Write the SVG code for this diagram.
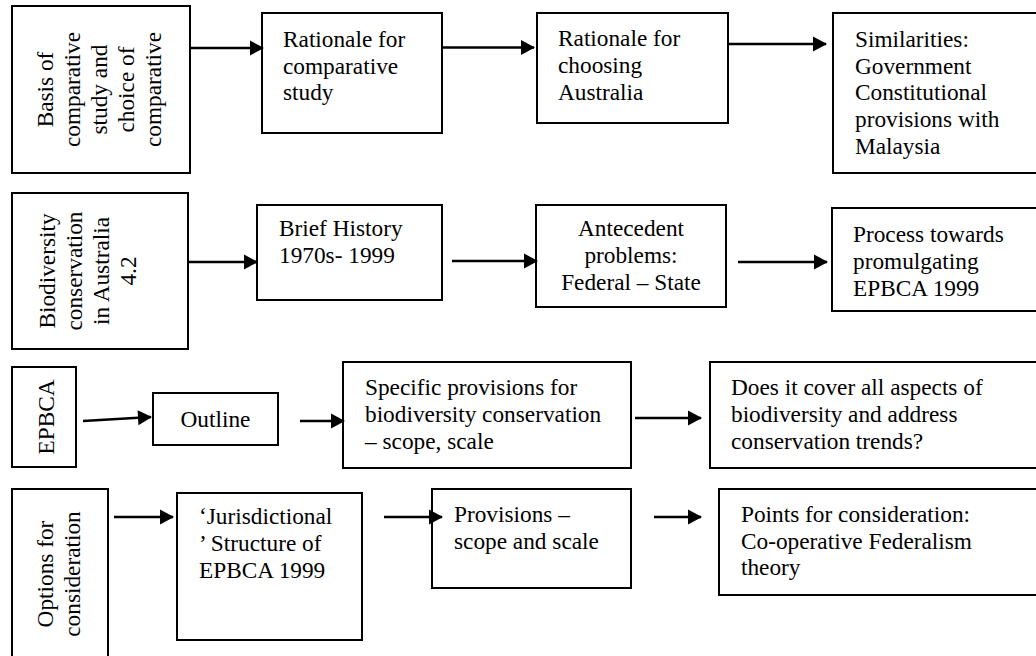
<svg xmlns="http://www.w3.org/2000/svg" width="1036" height="656" viewBox="0 0 1036 656">
<style>
.box{fill:#fff;stroke:#000;stroke-width:2}
.t{font-family:"Liberation Serif","Times New Roman",serif;font-size:23.3px;fill:#000}
.c{text-anchor:middle}
.conn line{stroke:#000;stroke-width:2.4;marker-end:url(#ah)}
</style>
<defs>
<marker id="ah" markerUnits="userSpaceOnUse" markerWidth="15" markerHeight="16" refX="13" refY="7.5" orient="auto" overflow="visible">
<path d="M0,0 L14,7.5 L0,15 z" fill="#000"/>
</marker>
</defs>
<rect width="1036" height="656" fill="#fff"/>

<g id="nodeA"><rect class="box" x="12" y="6" width="178" height="167"/>
<text class="t c" transform="translate(53 89.5) rotate(-90)"><tspan x="0" y="0">Basis of</tspan><tspan x="0" y="27">comparative</tspan><tspan x="0" y="54">study and</tspan><tspan x="0" y="81">choice of</tspan><tspan x="0" y="108">comparative</tspan></text></g>

<g id="nodeB"><rect class="box" x="262" y="13" width="180" height="120"/>
<text class="t"><tspan x="283" y="47">Rationale for</tspan><tspan x="283" y="73.5">comparative</tspan><tspan x="283" y="100">study</tspan></text></g>

<g id="nodeC"><rect class="box" x="537" y="13" width="191" height="110"/>
<text class="t"><tspan x="558" y="46">Rationale for</tspan><tspan x="558" y="73">choosing</tspan><tspan x="558" y="100">Australia</tspan></text></g>

<g id="nodeD"><rect class="box" x="833" y="13" width="210" height="160"/>
<text class="t"><tspan x="855" y="47">Similarities:</tspan><tspan x="855" y="73.5">Government</tspan><tspan x="855" y="100">Constitutional</tspan><tspan x="855" y="127">provisions with</tspan><tspan x="855" y="154">Malaysia</tspan></text></g>

<g id="nodeE"><rect class="box" x="12" y="193" width="176" height="156"/>
<text class="t c" transform="translate(55 271) rotate(-90)"><tspan x="0" y="0">Biodiversity</tspan><tspan x="0" y="27">conservation</tspan><tspan x="0" y="54">in Australia</tspan><tspan x="0" y="81">4.2</tspan></text></g>

<g id="nodeF"><rect class="box" x="257" y="205" width="185" height="95"/>
<text class="t"><tspan x="279" y="236">Brief History</tspan><tspan x="279" y="263">1970s- 1999</tspan></text></g>

<g id="nodeG"><rect class="box" x="536" y="205" width="190" height="102"/>
<text class="t c"><tspan x="631" y="236">Antecedent</tspan><tspan x="631" y="263">problems:</tspan><tspan x="631" y="290">Federal – State</tspan></text></g>

<g id="nodeH"><rect class="box" x="832" y="208" width="210" height="103"/>
<text class="t"><tspan x="853" y="242">Process towards</tspan><tspan x="853" y="269">promulgating</tspan><tspan x="853" y="296">EPBCA 1999</tspan></text></g>

<g id="nodeI"><rect class="box" x="12" y="367" width="64" height="100"/>
<text class="t c" transform="translate(54 417) rotate(-90)">EPBCA</text></g>

<g id="nodeJ"><rect class="box" x="153" y="393" width="125" height="52"/>
<text class="t c" x="215.5" y="427">Outline</text></g>

<g id="nodeK"><rect class="box" x="343" y="362" width="288" height="106"/>
<text class="t"><tspan x="365" y="395">Specific provisions for</tspan><tspan x="365" y="422">biodiversity conservation</tspan><tspan x="365" y="449">– scope, scale</tspan></text></g>

<g id="nodeL"><rect class="box" x="710" y="362" width="332" height="106"/>
<text class="t"><tspan x="731" y="395">Does it cover all aspects of</tspan><tspan x="731" y="422">biodiversity and address</tspan><tspan x="731" y="449">conservation trends?</tspan></text></g>

<g id="nodeM"><rect class="box" x="12" y="489" width="96" height="175"/>
<text class="t c" transform="translate(53 574) rotate(-90)"><tspan x="0" y="0">Options for</tspan><tspan x="0" y="27">consideration</tspan></text></g>

<g id="nodeN"><rect class="box" x="177" y="493" width="185" height="147"/>
<text class="t"><tspan x="199" y="524">‘Jurisdictional</tspan><tspan x="199" y="551">’ Structure of</tspan><tspan x="199" y="578">EPBCA 1999</tspan></text></g>

<g id="nodeO"><rect class="box" x="432" y="489" width="199" height="99"/>
<text class="t"><tspan x="454" y="522">Provisions –</tspan><tspan x="454" y="548.5">scope and scale</tspan></text></g>

<g id="nodeP"><rect class="box" x="719" y="489" width="323" height="106"/>
<text class="t"><tspan x="741" y="522">Points for consideration:</tspan><tspan x="741" y="548.5">Co-operative Federalism</tspan><tspan x="741" y="575">theory</tspan></text></g>

<g id="connectors" class="conn">
<line x1="190" y1="48" x2="263" y2="48"/>
<line x1="442" y1="47.5" x2="534" y2="47.5"/>
<line x1="729" y1="44" x2="826" y2="44"/>
<line x1="188" y1="262" x2="257" y2="262"/>
<line x1="452" y1="261" x2="537" y2="261"/>
<line x1="738" y1="262" x2="827" y2="262"/>
<line x1="83" y1="421" x2="151" y2="417"/>
<line x1="300" y1="421" x2="344" y2="421"/>
<line x1="635" y1="418" x2="701" y2="418"/>
<line x1="114" y1="517" x2="173" y2="517"/>
<line x1="384" y1="517" x2="442" y2="517"/>
<line x1="654" y1="517" x2="701" y2="517"/>
</g>
</svg>
